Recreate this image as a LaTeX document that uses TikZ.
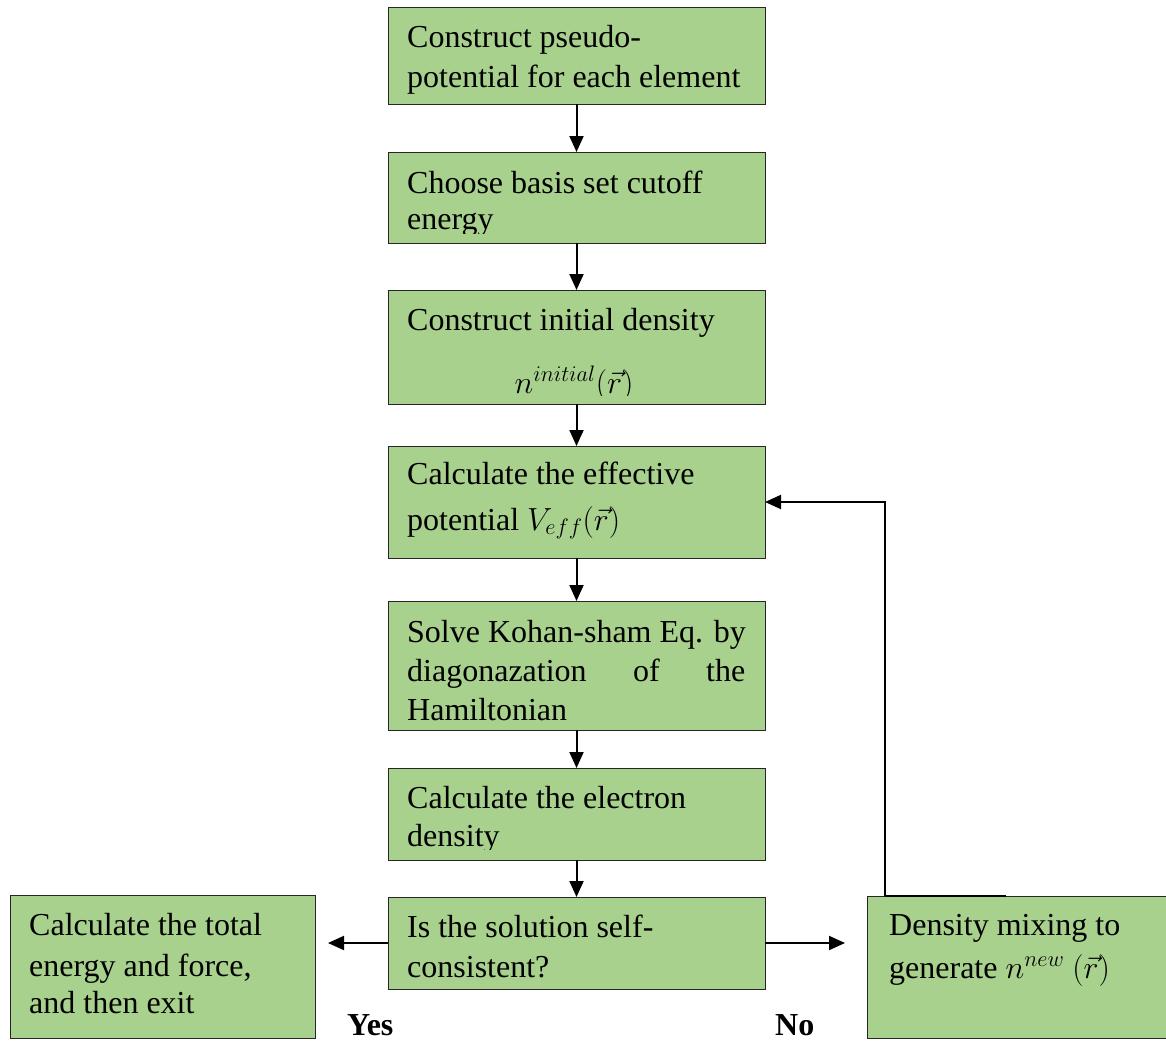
\RequirePackage{fix-cm}
\documentclass[tikz,border=0pt]{standalone}
\usepackage{fontspec}
\setmainfont{Liberation Serif}
\usetikzlibrary{arrows.meta}
\definecolor{boxgreen}{HTML}{A9D18E}
\begin{document}
\begin{tikzpicture}[x=1pt,y=-1pt,
  box/.style={draw=black!85, line width=1pt, fill=boxgreen, inner sep=0pt, outer sep=0pt, anchor=north west},
  txt/.style={inner sep=0pt, anchor=base west, font=\fontsize{32}{38}\selectfont},
  conn/.style={line width=2pt, -{Triangle[length=16pt,width=14pt]}},
  plain/.style={line width=2pt}]
\useasboundingbox (0,0) rectangle (1166,1041);

% boxes
\node[box, minimum width=377, minimum height=96]  (b1) at (388,8) {};
\node[box, minimum width=377, minimum height=91]  (b2) at (388,152) {};
\node[box, minimum width=377, minimum height=114] (b3) at (388,290) {};
\node[box, minimum width=377, minimum height=112] (b4) at (388,446) {};
\node[box, minimum width=377, minimum height=129] (b5) at (388,601) {};
\node[box, minimum width=377, minimum height=92]  (b6) at (388,768) {};
\node[box, minimum width=377, minimum height=92]  (b7) at (388,897) {};
\node[box, minimum width=305, minimum height=143] (b8) at (10,895) {};
\node[box, minimum width=302, minimum height=142] (b9) at (867,896) {};

% texts
\node[txt] (t1a) at (407,48) {Construct pseudo-};
\node[txt] (t1b) at (407,87) {potential for each element};

\node[txt] (t2a) at (407,193) {Choose basis set cutoff};
\begin{scope}
\clip (388,150) rectangle (765,233);
\node[txt] (t2b) at (407,229) {energy};
\end{scope}

\node[txt] (t3a) at (407,330) {Construct initial density};
\begin{scope}
\clip (388,300) rectangle (765,395);
\node[txt, anchor=base] (t3b) at (574,393) {$n^{initial}(\vec{r})$};
\end{scope}

\node[txt] (t4a) at (407,484) {Calculate the effective};
\node[txt] (t4b) at (407,530) {potential $V_{eff}(\vec{r})$};

\node[txt] (t5a) at (407,642) {Solve Kohan-sham Eq. by};
\node[txt] (t5b) at (407,681) {\makebox[338pt][s]{diagonazation of the}};
\node[txt] (t5c) at (407,720) {Hamiltonian};

\node[txt] (t6a) at (407,808) {Calculate the electron};
\begin{scope}
\clip (388,770) rectangle (765,849);
\node[txt] (t6b) at (407,846) {density};
\end{scope}

\node[txt] (t7a) at (407,937) {Is the solution self-};
\node[txt] (t7b) at (407,977) {consistent?};

\node[txt] (t8a) at (29,935) {Calculate the total};
\node[txt] (t8b) at (29,976) {energy and force,};
\node[txt] (t8c) at (29,1013) {and then exit};

\node[txt] (t9a) at (889,935) {Density mixing to};
\node[txt] (t9b) at (889,978) {generate $n^{new}$ $(\vec{r})$};

\node[txt, font=\fontsize{32}{38}\selectfont\bfseries] (yes) at (347,1035) {Yes};
\node[txt, font=\fontsize{32}{38}\selectfont\bfseries] (no) at (775,1035) {No};

% connectors
\draw[conn] (b1.south) -- (b2.north);
\draw[conn] (b2.south) -- (b3.north);
\draw[conn] (b3.south) -- (b4.north);
\draw[conn] (b4.south) -- (b5.north);
\draw[conn] (b5.south) -- (b6.north);
\draw[conn] (b6.south) -- (b7.north);

\coordinate (yestip) at (328,943);
\coordinate (notip) at (845,943);
\draw[conn] (b7.west) -- (yestip);
\draw[conn] (b7.east) -- (notip);

\coordinate (fb) at (885,896);
\coordinate (fbend) at (1006,896);
\draw[plain] (fbend) -- (fb);
\draw[conn] (fb) |- (b4.east);
\end{tikzpicture}
\end{document}
